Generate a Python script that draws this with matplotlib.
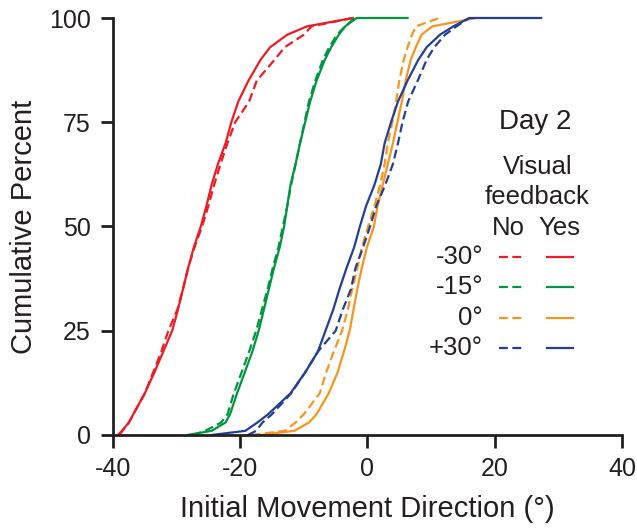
import numpy as np
import matplotlib.pyplot as plt
from matplotlib.lines import Line2D

plt.rcParams['font.family'] = ['Liberation Sans', 'DejaVu Sans']
plt.rcParams['axes.unicode_minus'] = False

# cumulative percent levels; the last entry is the largest observation
pct = [0, 1, 3, 5, 10, 15, 20, 25, 30, 35, 40, 45, 50, 55, 60, 65, 70, 75,
       80, 85, 90, 93, 96, 98, 100, 100]

# initial movement direction (deg) at each percent level
red_no = [-39.0, -38.5, -37.5, -36.8, -35.0, -33.7, -32.4, -31.3, -29.9, -29.0,
          -28.2, -27.2, -26.0, -25.0, -24.1, -23.1, -22.0, -20.8, -18.6, -17.4,
          -14.6, -13.0, -10.0, -8.8, -2.3, -2.3]
red_yes = [-39.2, -38.6, -37.5, -36.8, -35.0, -33.5, -32.1, -30.7, -29.8, -29.0,
           -28.2, -27.3, -26.2, -25.3, -24.5, -23.5, -22.3, -21.4, -20.3, -18.7,
           -16.8, -15.3, -12.6, -9.5, -2.3, -2.3]
green_no = [-27.5, -25.5, -23.0, -22.0, -21.0, -19.8, -18.6, -17.5, -16.6, -15.7,
            -14.9, -14.0, -13.3, -12.6, -12.0, -11.3, -10.6, -9.9, -9.2, -8.2,
            -7.0, -6.0, -4.8, -3.5, -2.0, -2.0]
green_yes = [-28.3, -24.5, -22.3, -21.6, -20.5, -19.3, -18.1, -17.1, -16.3, -15.5,
             -14.7, -13.8, -13.1, -12.6, -12.1, -11.3, -10.6, -9.8, -9.0, -8.0,
             -6.7, -5.7, -4.5, -3.5, -1.7, 6.3]
orange_no = [-18.2, -13.0, -11.3, -10.0, -7.5, -6.5, -5.3, -4.0, -3.1, -2.4,
             -1.6, -0.9, 0.1, 1.1, 2.0, 2.7, 3.2, 3.9, 4.5, 5.0,
             5.7, 6.3, 7.0, 7.6, 11.3, 11.3]
orange_yes = [-16.8, -11.5, -9.2, -8.0, -6.1, -4.7, -3.7, -2.8, -2.2, -1.6,
              -0.9, -0.1, 1.0, 1.6, 2.4, 3.2, 4.0, 4.7, 5.4, 6.0,
              6.8, 7.6, 8.5, 10.2, 17.1, 17.1]
blue_no = [-18.8, -17.5, -16.5, -15.0, -12.0, -9.8, -7.8, -5.0, -3.9, -2.6,
           -1.9, -0.7, 0.4, 1.4, 2.8, 4.0, 4.8, 5.5, 6.4, 7.9,
           9.3, 10.5, 12.2, 14.0, 16.0, 16.0]
blue_yes = [-24.5, -19.2, -17.3, -15.6, -12.1, -9.8, -7.8, -6.6, -5.4, -4.4,
            -3.3, -2.1, -1.2, -0.2, 1.1, 2.1, 2.7, 3.7, 4.8, 6.3,
            8.0, 9.3, 11.4, 13.5, 16.0, 27.3]

rotations = ['-30\u00b0', '-15\u00b0', '0\u00b0', '+30\u00b0']
colors = ['#ED1C24', '#00953F', '#F7941D', '#233E99']
no_data = [red_no, green_no, orange_no, blue_no]
yes_data = [red_yes, green_yes, orange_yes, blue_yes]

fig = plt.figure(figsize=(6.37, 5.31), dpi=100)
ax = fig.add_axes([0.1774, 0.1808, 0.799, 0.7853])

lw = 1.6
for c, xn, xy in zip(colors, no_data, yes_data):
    ax.plot(xn, pct, color=c, lw=lw, dashes=(4, 2), clip_on=False)
    ax.plot(xy, pct, color=c, lw=lw, clip_on=False)

ax.set_xlim(-40, 40)
ax.set_ylim(0, 100)
ax.set_xticks([-40, -20, 0, 20, 40])
ax.set_yticks([0, 25, 50, 75, 100])
for s in ['top', 'right']:
    ax.spines[s].set_visible(False)
for s in ['left', 'bottom']:
    ax.spines[s].set_linewidth(2)
    ax.spines[s].set_color('#231F20')
ax.tick_params(direction='out', length=9, width=2, color='#231F20',
               labelsize=18, labelcolor='#231F20', pad=7)
ax.set_xlabel('Initial Movement Direction (\u00b0)', fontsize=21,
              color='#231F20', labelpad=10)
ax.set_ylabel('Cumulative Percent', fontsize=21, color='#231F20', labelpad=8)

# custom legend
tc = '#231F20'
ax.text(0.829, 0.751, 'Day 2', transform=ax.transAxes, ha='center',
        va='center', fontsize=20, color=tc)
ax.text(0.835, 0.643, 'Visual', transform=ax.transAxes, ha='center',
        va='center', fontsize=18.5, color=tc)
ax.text(0.833, 0.571, 'feedback', transform=ax.transAxes, ha='center',
        va='center', fontsize=18.5, color=tc)
ax.text(0.776, 0.496, 'No', transform=ax.transAxes, ha='center',
        va='center', fontsize=18.5, color=tc)
ax.text(0.878, 0.496, 'Yes', transform=ax.transAxes, ha='center',
        va='center', fontsize=18.5, color=tc)
rows_y = [0.427, 0.355, 0.281, 0.209]
for lab, c, ry in zip(rotations, colors, rows_y):
    ax.text(0.727, ry, lab, transform=ax.transAxes, ha='right', va='center',
            fontsize=18.5, color=tc)
    ax.add_line(Line2D([0.758, 0.804], [ry, ry], transform=ax.transAxes,
                       color=c, lw=lw, dashes=(4, 2)))
    ax.add_line(Line2D([0.853, 0.904], [ry, ry], transform=ax.transAxes,
                       color=c, lw=lw))

fig.savefig('out.png', dpi=100)
